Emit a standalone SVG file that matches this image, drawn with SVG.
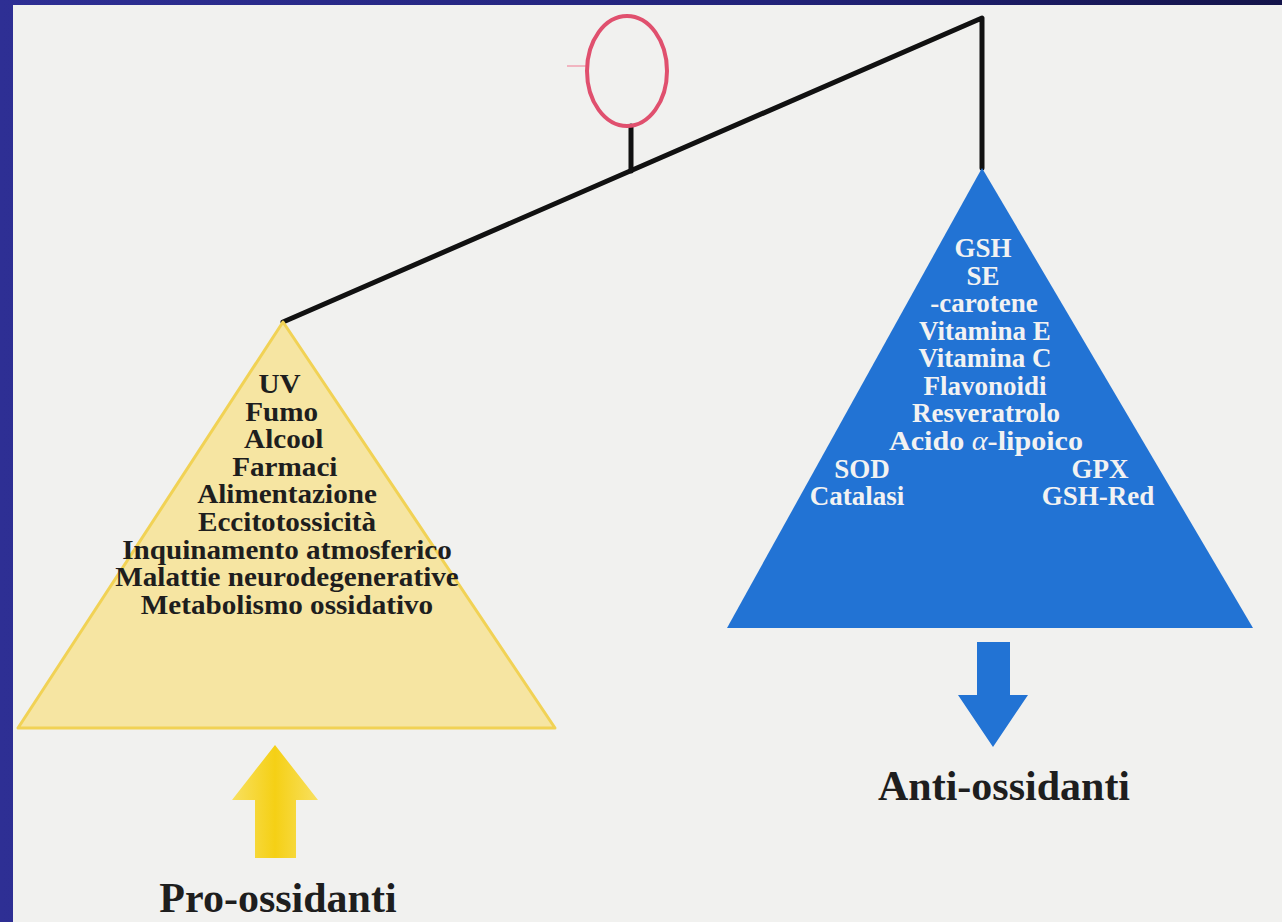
<svg xmlns="http://www.w3.org/2000/svg" width="1282" height="922" viewBox="0 0 1282 922">
<defs>
<linearGradient id="bg" x1="0" y1="0" x2="1" y2="0">
<stop offset="0" stop-color="#2e2f94"/>
<stop offset="0.6" stop-color="#22237a"/>
<stop offset="1" stop-color="#14144a"/>
</linearGradient>
<linearGradient id="yarrow" x1="0" y1="0" x2="1" y2="0">
<stop offset="0" stop-color="#f8e060"/>
<stop offset="0.5" stop-color="#f5d015"/>
<stop offset="1" stop-color="#f8e060"/>
</linearGradient>
<style>
.beam{stroke:#111;stroke-width:5;fill:none;stroke-linecap:round;stroke-linejoin:round}
.yt{font-family:"Liberation Serif",serif;font-weight:bold;font-size:27px;fill:#1e1e1e;text-anchor:middle}
.bt{font-family:"Liberation Serif",serif;font-weight:bold;font-size:27px;fill:#f2f2f2;text-anchor:middle}
.lbl{font-family:"Liberation Serif",serif;font-weight:bold;font-size:42px;fill:#1e1e1e;text-anchor:middle}
</style>
</defs>
<rect x="0" y="0" width="1282" height="922" fill="url(#bg)"/>
<rect x="13" y="5" width="1269" height="917" fill="#f1f1ef"/>

<g id="connectors">
<polyline class="beam" points="283,322 982,18 982,168"/>
<line class="beam" x1="631" y1="126" x2="631" y2="171"/>
<line x1="567" y1="66" x2="587" y2="66" stroke="#f0a0b0" stroke-width="1.5"/>
</g>

<g id="ring">
<ellipse cx="627" cy="71" rx="40" ry="55" fill="none" stroke="#e0506e" stroke-width="4"/>
</g>

<g id="pro-pyramid">
<polygon points="283,322 18,728 555,728" fill="#f6e5a2" stroke="#f1d255" stroke-width="3" stroke-linejoin="round"/>
<g transform="translate(287,0) scale(1.08,1)">
<text class="yt" x="-7" y="393">UV</text>
<text class="yt" x="-5" y="420.6">Fumo</text>
<text class="yt" x="-3" y="448.3">Alcool</text>
<text class="yt" x="-2" y="475.9">Farmaci</text>
<text class="yt" x="0" y="503.5">Alimentazione</text>
<text class="yt" x="0" y="531.1">Eccitotossicità</text>
<text class="yt" x="0" y="558.8">Inquinamento atmosferico</text>
<text class="yt" x="0" y="586.4">Malattie neurodegenerative</text>
<text class="yt" x="0" y="614">Metabolismo ossidativo</text>
</g>
</g>

<g id="anti-pyramid">
<polygon points="982,168 727,628 1253,628" fill="#2273d4"/>
<text class="bt" x="983" y="257">GSH</text>
<text class="bt" x="983" y="284.6">SE</text>
<text class="bt" x="984" y="312.1">-carotene</text>
<text class="bt" x="985" y="339.7">Vitamina E</text>
<text class="bt" x="985" y="367.2">Vitamina C</text>
<text class="bt" x="985" y="394.8">Flavonoidi</text>
<text class="bt" x="986" y="422.4">Resveratrolo</text>
<text class="bt" x="986" y="449.9" textLength="194" lengthAdjust="spacingAndGlyphs">Acido <tspan font-weight="normal" font-style="italic">α</tspan>-lipoico</text>
<text class="bt" x="862" y="477.5">SOD</text>
<text class="bt" x="857" y="505">Catalasi</text>
<text class="bt" x="1100" y="477.5">GPX</text>
<text class="bt" x="1098" y="505">GSH-Red</text>
</g>

<g id="pro-arrow">
<polygon points="275,745 318,800 296,800 296,858 255,858 255,800 232,800" fill="url(#yarrow)"/>
<text class="lbl" x="278" y="912">Pro-ossidanti</text>
</g>

<g id="anti-arrow">
<polygon points="977,642 1010,642 1010,695 1028,695 993,747 958,695 977,695" fill="#2273d4"/>
<text class="lbl" x="1004" y="800">Anti-ossidanti</text>
</g>
</svg>
